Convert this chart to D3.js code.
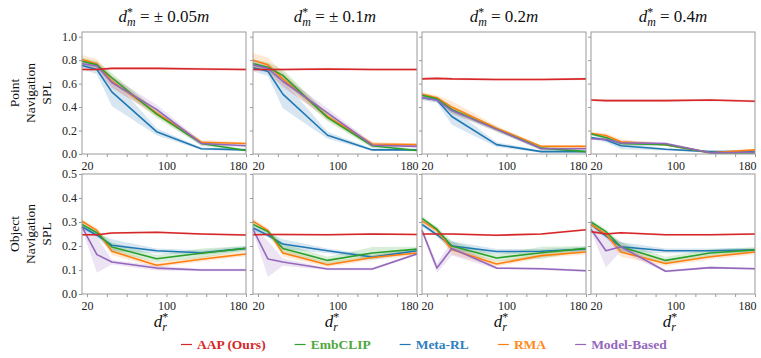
<!DOCTYPE html>
<html>
<head>
<meta charset="utf-8">
<script src="https://cdn.jsdelivr.net/npm/d3@7"></script>
<style>
  body { margin: 0; background: #fff; }
  svg { display: block; }
  svg text { font-family: "Liberation Serif", "Times New Roman", Times, serif; }
</style>
</head>
<body>
<div id="chart"></div>
<script>
// d_r* values sampled in every run
const xs = [15, 30, 45, 90, 135, 180];

const methods = ["AAP (Ours)", "EmbCLIP", "Meta-RL", "RMA", "Model-Based"];
const colors  = ["#d62728", "#2ca02c", "#1f77b4", "#ff7f0e", "#9467bd"];
const textColors = ["#d62728", "#4fa83d", "#2f80c0", "#ff8a1c", "#9467bd"];

const titles = ["= \u00b1 0.05", "= \u00b1 0.1", "= 0.2", "= 0.4"];
const rowLabels = [["Point", "Navigation", "SPL"], ["Object", "Navigation", "SPL"]];
const xTickLabels = [20, 100, 180];

// rows of each table follow `methods`
// Point navigation SPL
const pointMean05 = [
  [0.72, 0.72, 0.73, 0.73, 0.725, 0.72],
  [0.79, 0.76, 0.65, 0.34, 0.09, 0.03],
  [0.755, 0.72, 0.53, 0.19, 0.045, 0.035],
  [0.805, 0.77, 0.62, 0.35, 0.10, 0.09],
  [0.77, 0.75, 0.61, 0.38, 0.09, 0.07]
];
const pointErr05 = [
  [0.01, 0.01, 0.01, 0.01, 0.01, 0.01],
  [0.03, 0.03, 0.04, 0.03, 0.02, 0.01],
  [0.03, 0.04, 0.12, 0.03, 0.01, 0.01],
  [0.04, 0.04, 0.05, 0.03, 0.02, 0.01],
  [0.03, 0.03, 0.05, 0.04, 0.02, 0.01]
];
const pointMean10 = [
  [0.72, 0.72, 0.72, 0.725, 0.72, 0.72],
  [0.77, 0.74, 0.67, 0.31, 0.07, 0.03],
  [0.735, 0.705, 0.51, 0.16, 0.035, 0.035],
  [0.80, 0.76, 0.64, 0.32, 0.085, 0.08],
  [0.76, 0.73, 0.62, 0.35, 0.075, 0.065]
];
const pointErr10 = [
  [0.01, 0.01, 0.01, 0.01, 0.01, 0.01],
  [0.04, 0.04, 0.05, 0.03, 0.02, 0.01],
  [0.03, 0.04, 0.12, 0.03, 0.01, 0.01],
  [0.06, 0.06, 0.06, 0.03, 0.02, 0.01],
  [0.04, 0.04, 0.05, 0.04, 0.02, 0.01]
];
const pointMean20 = [
  [0.64, 0.645, 0.64, 0.635, 0.635, 0.64],
  [0.50, 0.47, 0.38, 0.21, 0.05, 0.02],
  [0.48, 0.46, 0.32, 0.08, 0.02, 0.02],
  [0.51, 0.48, 0.40, 0.22, 0.065, 0.065],
  [0.48, 0.46, 0.37, 0.21, 0.045, 0.045]
];
const pointErr20 = [
  [0.01, 0.01, 0.01, 0.01, 0.01, 0.01],
  [0.02, 0.02, 0.03, 0.02, 0.02, 0.01],
  [0.02, 0.02, 0.07, 0.02, 0.01, 0.01],
  [0.02, 0.02, 0.05, 0.02, 0.01, 0.01],
  [0.02, 0.02, 0.03, 0.02, 0.01, 0.01]
];
const pointMean40 = [
  [0.46, 0.455, 0.455, 0.455, 0.46, 0.45],
  [0.17, 0.14, 0.09, 0.08, 0.01, 0.01],
  [0.14, 0.12, 0.07, 0.04, 0.02, 0.02],
  [0.177, 0.157, 0.105, 0.08, 0.01, 0.035],
  [0.13, 0.125, 0.095, 0.09, 0.01, 0.015]
];
const pointErr40 = [
  [0.01, 0.01, 0.01, 0.01, 0.01, 0.01],
  [0.01, 0.02, 0.02, 0.01, 0.01, 0.01],
  [0.01, 0.02, 0.03, 0.01, 0.01, 0.01],
  [0.01, 0.02, 0.02, 0.01, 0.01, 0.01],
  [0.01, 0.01, 0.02, 0.01, 0.01, 0.01]
];

// Object navigation SPL
const objMean05 = [
  [0.247, 0.247, 0.254, 0.257, 0.25, 0.246],
  [0.29, 0.255, 0.196, 0.147, 0.17, 0.19],
  [0.28, 0.245, 0.203, 0.18, 0.172, 0.19],
  [0.303, 0.265, 0.178, 0.12, 0.145, 0.167],
  [0.28, 0.164, 0.133, 0.108, 0.10, 0.10]
];
const objErr05 = [
  [0.004, 0.004, 0.004, 0.004, 0.004, 0.004],
  [0.01, 0.01, 0.02, 0.015, 0.02, 0.01],
  [0.01, 0.01, 0.025, 0.01, 0.01, 0.01],
  [0.01, 0.01, 0.015, 0.01, 0.01, 0.01],
  [0.01, 0.075, 0.01, 0.01, 0.005, 0.005]
];
const objMean10 = [
  [0.247, 0.248, 0.248, 0.247, 0.25, 0.248],
  [0.29, 0.26, 0.19, 0.14, 0.171, 0.187],
  [0.275, 0.245, 0.208, 0.18, 0.154, 0.18],
  [0.303, 0.265, 0.171, 0.122, 0.152, 0.171],
  [0.27, 0.146, 0.133, 0.104, 0.104, 0.167]
];
const objErr10 = [
  [0.004, 0.004, 0.004, 0.004, 0.004, 0.004],
  [0.01, 0.01, 0.02, 0.015, 0.025, 0.01],
  [0.01, 0.01, 0.02, 0.01, 0.01, 0.01],
  [0.01, 0.01, 0.015, 0.01, 0.01, 0.01],
  [0.01, 0.075, 0.015, 0.005, 0.005, 0.005]
];
const objMean20 = [
  [0.25, 0.25, 0.25, 0.245, 0.25, 0.268],
  [0.315, 0.27, 0.20, 0.15, 0.172, 0.19],
  [0.29, 0.247, 0.20, 0.177, 0.178, 0.187],
  [0.305, 0.265, 0.185, 0.125, 0.16, 0.175],
  [0.265, 0.108, 0.19, 0.108, 0.105, 0.097]
];
const objErr20 = [
  [0.004, 0.004, 0.004, 0.004, 0.004, 0.004],
  [0.01, 0.01, 0.02, 0.015, 0.025, 0.01],
  [0.01, 0.01, 0.02, 0.01, 0.01, 0.01],
  [0.01, 0.01, 0.02, 0.01, 0.01, 0.01],
  [0.01, 0.02, 0.03, 0.005, 0.005, 0.005]
];
const objMean40 = [
  [0.26, 0.25, 0.255, 0.247, 0.247, 0.25],
  [0.30, 0.26, 0.197, 0.14, 0.171, 0.184],
  [0.29, 0.242, 0.197, 0.18, 0.18, 0.184],
  [0.29, 0.25, 0.175, 0.127, 0.155, 0.175],
  [0.27, 0.18, 0.197, 0.095, 0.11, 0.105]
];
const objErr40 = [
  [0.004, 0.004, 0.004, 0.004, 0.004, 0.004],
  [0.01, 0.01, 0.02, 0.015, 0.015, 0.01],
  [0.01, 0.01, 0.02, 0.01, 0.01, 0.01],
  [0.01, 0.01, 0.02, 0.01, 0.01, 0.01],
  [0.01, 0.07, 0.02, 0.005, 0.005, 0.005]
];

const panels = [
  [[pointMean05, pointErr05], [pointMean10, pointErr10], [pointMean20, pointErr20], [pointMean40, pointErr40]],
  [[objMean05, objErr05], [objMean10, objErr10], [objMean20, objErr20], [objMean40, objErr40]]
];

// layout
const W = 761, H = 358;
const lefts = [82, 253, 422, 591];
const pw = 164;
const rows = [
  {top: 32, bottom: 154, ymax: 1.04, ticks: d3.range(0, 1.01, 0.2)},
  {top: 174, bottom: 294, ymax: 0.5, ticks: d3.range(0, 0.51, 0.1)}
];
const axisGray = "#9a9a9a";

const svg = d3.select("#chart").append("svg")
    .attr("width", W)
    .attr("height", H);

// stacked super/subscript symbol like d^*_m
function symbol(t, sub, fs) {
  const s = fs * 0.7;
  t.append("tspan").attr("font-style", "italic").text("d");
  t.append("tspan").attr("font-size", s).attr("dy", -6).text("*");
  t.append("tspan").attr("font-size", s).attr("font-style", "italic")
    .attr("dx", -s * 0.5).attr("dy", 10).text(sub);
}

rows.forEach((row, r) => {
  const y = d3.scaleLinear().domain([0, row.ymax]).range([row.bottom, row.top]);

  lefts.forEach((left, c) => {
    const x = d3.scaleLinear().domain([15, 180]).range([left, left + pw]);
    const [means, errs] = panels[r][c];
    const g = svg.append("g");

    // bands first, then lines
    const area = d3.area()
        .x((d, i) => x(xs[i]))
        .y0(d => y(d[0] - d[1]))
        .y1(d => y(d[0] + d[1]));
    const line = d3.line()
        .x((d, i) => x(xs[i]))
        .y(d => y(d));

    const order = [2, 3, 1, 4, 0]; // red drawn last, on top
    order.forEach(k => {
      g.append("path")
        .datum(means[k].map((m, i) => [m, errs[k][i]]))
        .attr("d", area)
        .attr("fill", colors[k])
        .attr("fill-opacity", 0.18);
    });
    order.forEach(k => {
      g.append("path")
        .datum(means[k])
        .attr("d", line)
        .attr("fill", "none")
        .attr("stroke", colors[k])
        .attr("stroke-width", 1.6)
        .attr("stroke-linejoin", "round");
    });

    // frame
    g.append("rect")
      .attr("x", left).attr("y", row.top)
      .attr("width", pw).attr("height", row.bottom - row.top)
      .attr("fill", "none")
      .attr("stroke", axisGray)
      .attr("stroke-width", 1);

    // x axis
    const xa = g.append("g")
      .attr("transform", `translate(0,${row.bottom})`)
      .call(d3.axisBottom(x)
        .tickValues(d3.range(20, 181, 20))
        .tickSize(3)
        .tickPadding(4)
        .tickFormat(d => xTickLabels.includes(d) ? d : ""));
    xa.select(".domain").remove();
    xa.selectAll(".tick line").attr("stroke", axisGray);
    xa.selectAll(".tick text")
      .attr("font-size", 12)
      .attr("fill", "#222")
      .filter(d => d === 180)
      .attr("text-anchor", "end")
      .attr("dx", 1);

    // y axis
    const ya = g.append("g")
      .attr("transform", `translate(${left},0)`)
      .call(d3.axisLeft(y)
        .tickValues(row.ticks)
        .tickSize(3)
        .tickPadding(2)
        .tickFormat(c === 0 ? d3.format(".1f") : () => ""));
    ya.select(".domain").remove();
    ya.selectAll(".tick line").attr("stroke", axisGray);
    ya.selectAll(".tick text")
      .attr("font-size", 12)
      .attr("fill", "#222");

    // column titles
    if (r === 0) {
      const t = svg.append("text")
        .attr("x", left + pw / 2)
        .attr("y", 22)
        .attr("text-anchor", "middle")
        .attr("font-size", 17)
        .attr("fill", "#111");
      symbol(t, "m", 17);
      t.append("tspan").attr("dy", -4).text(" " + titles[c]);
      t.append("tspan").attr("font-style", "italic").text("m");
    }

    // x label under bottom row
    if (r === 1) {
      const t = svg.append("text")
        .attr("x", left + pw / 2 - 3)
        .attr("y", 327)
        .attr("text-anchor", "middle")
        .attr("font-size", 17)
        .attr("fill", "#111");
      symbol(t, "r", 17);
    }
  });

  // row label
  const cy = (row.top + row.bottom) / 2;
  const lab = svg.append("text")
    .attr("transform", `translate(31,${cy}) rotate(-90)`)
    .attr("text-anchor", "middle")
    .attr("font-size", 13.5)
    .attr("fill", "#111");
  rowLabels[r].forEach((s, i) => {
    lab.append("tspan")
      .attr("x", 0)
      .attr("y", (i - 1) * 16 + 4)
      .text(s);
  });
});

// legend
const leg = svg.append("g").attr("transform", "translate(0,349)");
let lx = 181;
methods.forEach((m, k) => {
  leg.append("line")
    .attr("x1", lx).attr("x2", lx + 11)
    .attr("y1", -4.5).attr("y2", -4.5)
    .attr("stroke", colors[k])
    .attr("stroke-width", 1.2);
  const t = leg.append("text")
    .attr("x", lx + 16)
    .attr("y", 0)
    .attr("font-size", 13.5)
    .attr("font-weight", "bold")
    .attr("fill", textColors[k])
    .text(m);
  lx += 16 + t.node().getComputedTextLength() + 29;
});
</script>
</body>
</html>
